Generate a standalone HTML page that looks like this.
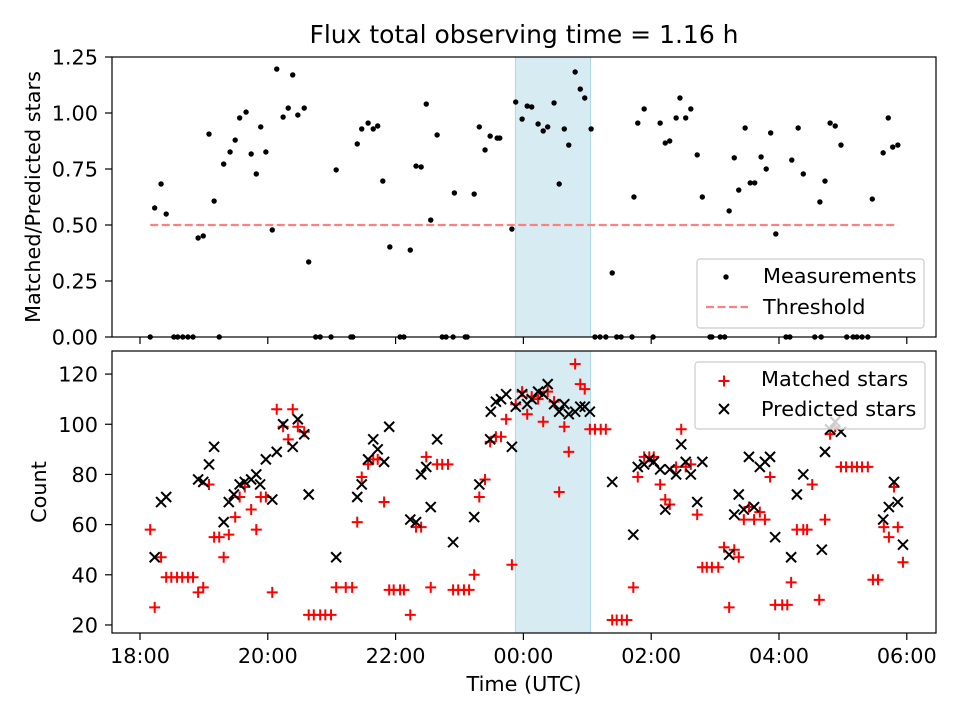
<!DOCTYPE html>
<html><head><meta charset="utf-8"><style>
html,body{margin:0;padding:0;background:#fff;}
svg{display:block;font-family:"DejaVu Sans","Liberation Sans",sans-serif;}
</style></head><body>
<svg id="chart" width="960" height="720" viewBox="0 0 960 720" xmlns="http://www.w3.org/2000/svg"></svg>
<script>
// Hours since 18:00 UTC
const ratioTimes = [0.16,0.23,0.33,0.41,0.53,0.59,0.67,0.75,0.83,0.91,0.99,1.08,1.16,1.24,1.31,1.41,1.49,1.56,1.66,1.74,1.82,1.89,1.97,2.07,2.14,2.24,2.32,2.39,2.47,2.57,2.64,2.75,2.82,2.99,3.07,3.30,3.33,3.40,3.47,3.57,3.65,3.72,3.80,3.91,4.07,4.13,4.23,4.32,4.40,4.48,4.55,4.65,4.73,4.79,4.90,4.92,5.09,5.12,5.23,5.31,5.40,5.48,5.59,5.63,5.82,5.88,5.98,6.06,6.13,6.23,6.31,6.38,6.48,6.56,6.64,6.71,6.81,6.89,6.96,7.06,7.12,7.20,7.29,7.39,7.46,7.53,7.70,7.73,7.79,7.89,8.03,8.14,8.22,8.29,8.39,8.45,8.54,8.62,8.72,8.80,8.92,8.95,9.08,9.15,9.22,9.30,9.37,9.47,9.55,9.62,9.72,9.80,9.87,9.95,10.11,10.17,10.20,10.30,10.38,10.56,10.64,10.66,10.72,10.80,10.88,10.97,11.06,11.16,11.22,11.30,11.39,11.46,11.63,11.71,11.78,11.86];
const ratioValues = [0,0.576,0.683,0.549,0,0,0,0,0,0.442,0.451,0.906,0.607,0,0.772,0.826,0.879,0.978,1.004,0.817,0.728,0.938,0.826,0.478,1.196,0.982,1.022,1.17,0.991,1.022,0.335,0,0,0,0.746,0,0,0.862,0.929,0.955,0.929,0.942,0.696,0.402,0,0,0.388,0.763,0.759,1.04,0.522,0.902,0,0,0,0.643,0,0,0.638,0.938,0.835,0.897,0.888,0.888,0.482,1.049,0.973,1.031,1.027,0.951,0.92,0.938,1.045,0.683,0.929,0.857,1.183,1.107,1.067,0.929,0,0,0,0.286,0,0,0,0.625,0.955,1.018,0,0.955,0.866,0.875,0.978,1.067,0.978,1.018,0.813,0.625,0,0,0,0,0.563,0.8,0.656,0.933,0.688,0.688,0.804,0.75,0.911,0.46,0,0,0.79,0.933,0.728,0,0.603,0,0.696,0.955,0.942,0.857,0,0,0,0,0,0.616,0.822,0.978,0.848,0.857];
const matchedTimes = [0.16,0.23,0.33,0.41,0.49,0.58,0.66,0.75,0.83,0.91,0.99,1.08,1.16,1.24,1.31,1.39,1.49,1.56,1.64,1.74,1.82,1.89,1.97,2.07,2.14,2.24,2.32,2.39,2.47,2.57,2.64,2.72,2.82,2.90,2.99,3.07,3.22,3.32,3.40,3.47,3.57,3.65,3.72,3.82,3.90,3.97,4.07,4.13,4.23,4.32,4.40,4.48,4.55,4.65,4.73,4.82,4.90,4.98,5.07,5.15,5.23,5.31,5.40,5.48,5.57,5.65,5.73,5.82,5.88,5.98,6.06,6.13,6.23,6.31,6.38,6.48,6.56,6.64,6.71,6.81,6.89,6.96,7.04,7.12,7.21,7.29,7.39,7.46,7.54,7.62,7.72,7.79,7.89,7.97,8.04,8.14,8.22,8.29,8.39,8.47,8.54,8.62,8.72,8.80,8.87,8.95,9.05,9.14,9.22,9.30,9.37,9.45,9.53,9.61,9.70,9.78,9.86,9.94,10.05,10.13,10.19,10.28,10.38,10.44,10.52,10.63,10.72,10.80,10.88,10.97,11.05,11.14,11.22,11.30,11.39,11.47,11.55,11.64,11.72,11.80,11.86,11.94];
const matchedValues = [58,27,47,39,39,39,39,39,39,33,35,76,55,55,47,56,63,71,75,66,58,71,71,33,106,99,94,106,99,97,24,24,24,24,24,35,35,35,61,79,84,86,86,69,34,34,34,34,24,59,59,87,35,84,84,84,34,34,34,34,40,71,78,93,95,95,102,44,108,113,104,111,110,101,113,109,73,99,89,124,116,114,98,98,98,98,22,22,22,22,35,79,87,87,87,76,70,68,83,98,83,84,64,43,43,43,43,51,27,50,47,62,67,62,65,62,79,28,28,28,37,58,58,58,76,30,62,96,99,83,83,83,83,83,83,38,38,59,55,75,59,45];
const predictedTimes = [0.23,0.33,0.41,0.91,0.99,1.08,1.16,1.31,1.39,1.47,1.56,1.64,1.74,1.82,1.88,1.97,2.07,2.14,2.24,2.39,2.47,2.57,2.64,3.07,3.40,3.47,3.57,3.65,3.72,3.82,3.90,4.23,4.32,4.40,4.48,4.55,4.65,4.90,5.23,5.31,5.48,5.49,5.57,5.65,5.73,5.82,5.88,5.98,6.06,6.13,6.23,6.31,6.38,6.48,6.56,6.64,6.71,6.81,6.89,6.96,7.04,7.39,7.72,7.79,7.89,7.97,8.04,8.14,8.22,8.29,8.39,8.47,8.54,8.62,8.72,8.80,9.22,9.30,9.37,9.45,9.53,9.61,9.70,9.78,9.86,9.94,10.19,10.28,10.38,10.67,10.72,10.80,10.88,10.97,11.63,11.72,11.80,11.86,11.94];
const predictedValues = [47,69,71,78,77,84,91,61,69,72,76,77,78,80,76,86,70,89,100,91,102,96,72,47,71,76,86,94,90,85,99,62,61,80,83,67,94,53,63,76,94,105,109,110,112,91,107,112,108,110,113,112,116,108,105,108,104,105,107,107,105,77,56,83,84,86,85,82,66,82,80,92,85,80,69,85,48,64,72,66,87,67,83,85,87,55,47,72,80,50,89,98,101,97,62,67,77,69,52];
const xTickValues = [0,2,4,6,8,10,12];
const xTickLabels = ["18:00","20:00","22:00","00:00","02:00","04:00","06:00"];
const topTicks = [0,0.25,0.5,0.75,1.0,1.25];
const topTickLabels = ["0.00","0.25","0.50","0.75","1.00","1.25"];
const bottomTicks = [20,40,60,80,100,120];
const thresholdValue = 0.5;
const windowStart = 5.875, windowEnd = 7.05;

const NS = "http://www.w3.org/2000/svg";
const svg = document.getElementById('chart');
function mk(tag, attrs, parent, text){
  const e = document.createElementNS(NS, tag);
  for (const k in attrs) e.setAttribute(k, attrs[k]);
  if (text !== undefined) e.textContent = text;
  (parent || svg).appendChild(e);
  return e;
}
const FS = 20.8;
const L = 112, R = 936;
const xMin = -0.438, xMax = 12.457;
function xs(t){ return L + (t - xMin) / (xMax - xMin) * (R - L); }
const T0 = 57, T1 = 337;
function yTop(v){ return T1 - (v - 0) / 1.25 * (T1 - T0); }
const B0 = 351, B1 = 633, bMin = 16.8, bMax = 129.2;
function yBot(v){ return B1 - (v - bMin) / (bMax - bMin) * (B1 - B0); }

let t = mk('text', {x:524, y:43, 'text-anchor':'middle', 'font-size':'25'}, svg, 'Flux total observing time = 1.16 h');



function panel(name, y0, y1, yfun, ticks, labels){
  const g = mk('g', {});
  
  
  const sh = mk('rect', {x:xs(windowStart), y:y0, width:xs(windowEnd)-xs(windowStart), height:y1-y0, fill:'#add8e6', 'fill-opacity':'0.5', stroke:'#add8e6', 'stroke-width':'1'}, g);
  
  
  ticks.forEach((v,i)=>{
    const y = yfun(v);
    mk('line', {x1:L-7, x2:L, y1:y, y2:y, stroke:'#000', 'stroke-width':'1.2'}, g);
    const lb = mk('text', {x:L-14, y:y+7.5, 'text-anchor':'end', 'font-size':FS}, g, labels[i]);
    
    
  });
  xTickValues.forEach(v=>{
    mk('line', {x1:xs(v), x2:xs(v), y1:y1, y2:y1+7, stroke:'#000', 'stroke-width':'1.2'}, g);
  });
  return g;
}
const gTop = panel('top-panel', T0, T1, yTop, topTicks, topTickLabels);
const gBot = panel('bottom-panel', B0, B1, yBot, bottomTicks, bottomTicks.map(String));

const th = mk('line', {x1:xs(ratioTimes[0]), x2:xs(ratioTimes[ratioTimes.length-1]), y1:yTop(thresholdValue), y2:yTop(thresholdValue), stroke:'#ff7f7f', 'stroke-width':'2.2', 'stroke-dasharray':'8,3.5'}, gTop);



ratioTimes.forEach((tt,i)=>{
  const c = mk('circle', {cx:xs(tt), cy:yTop(ratioValues[i]), r:2.7, fill:'#000'}, gTop);
  
  
});

matchedTimes.forEach((tt,i)=>{
  const x = xs(tt), y = yBot(matchedValues[i]);
  const p = mk('path', {d:`M${x-5.5},${y}H${x+5.5}M${x},${y-5.5}V${y+5.5}`, stroke:'#ff0000', 'stroke-width':'2', fill:'none'}, gBot);
  
  
});
predictedTimes.forEach((tt,i)=>{
  const x = xs(tt), y = yBot(predictedValues[i]);
  const p = mk('path', {d:`M${x-5},${y-5}L${x+5},${y+5}M${x-5},${y+5}L${x+5},${y-5}`, stroke:'#000', 'stroke-width':'2', fill:'none'}, gBot);
  
  
});

[[T0,T1],[B0,B1]].forEach(([a,b])=>{
  const f = mk('rect', {x:L, y:a, width:R-L, height:b-a, fill:'none', stroke:'#000', 'stroke-width':'1.2'});
  
  
});

xTickValues.forEach((v,i)=>{
  const lb = mk('text', {x:xs(v), y:663, 'text-anchor':'middle', 'font-size':FS}, svg, xTickLabels[i]);
  
  
});
let xl = mk('text', {x:524, y:691, 'text-anchor':'middle', 'font-size':FS}, svg, 'Time (UTC)');


let yl1 = mk('text', {x:0, y:0, 'text-anchor':'middle', 'font-size':FS, transform:'translate(40,197) rotate(-90)'}, svg, 'Matched/Predicted stars');


let yl2 = mk('text', {x:0, y:0, 'text-anchor':'middle', 'font-size':FS, transform:'translate(46,492) rotate(-90)'}, svg, 'Count');



const lg1 = mk('g', {});


mk('rect', {x:697, y:259, width:227, height:69, rx:3, fill:'#fff', 'fill-opacity':'0.8', stroke:'#ccc', 'stroke-width':'1.2'}, lg1);
mk('circle', {cx:726, cy:277, r:2.7, fill:'#000'}, lg1);
mk('text', {x:763, y:283, 'font-size':FS}, lg1, 'Measurements');
mk('line', {x1:706, x2:748, y1:307, y2:307, stroke:'#ff7f7f', 'stroke-width':'2.2', 'stroke-dasharray':'8,3.5'}, lg1);
mk('text', {x:763, y:314, 'font-size':FS}, lg1, 'Threshold');

const lg2 = mk('g', {});


mk('rect', {x:695, y:362, width:230, height:67, rx:3, fill:'#fff', 'fill-opacity':'0.8', stroke:'#ccc', 'stroke-width':'1.2'}, lg2);
mk('path', {d:'M718.5,381H729.5M724,375.5V386.5', stroke:'#ff0000', 'stroke-width':'2'}, lg2);
mk('text', {x:761, y:386, 'font-size':FS}, lg2, 'Matched stars');
mk('path', {d:'M719,404L729,414M719,414L729,404', stroke:'#000', 'stroke-width':'2'}, lg2);
mk('text', {x:761, y:416, 'font-size':FS}, lg2, 'Predicted stars');
</script>
</body></html>
